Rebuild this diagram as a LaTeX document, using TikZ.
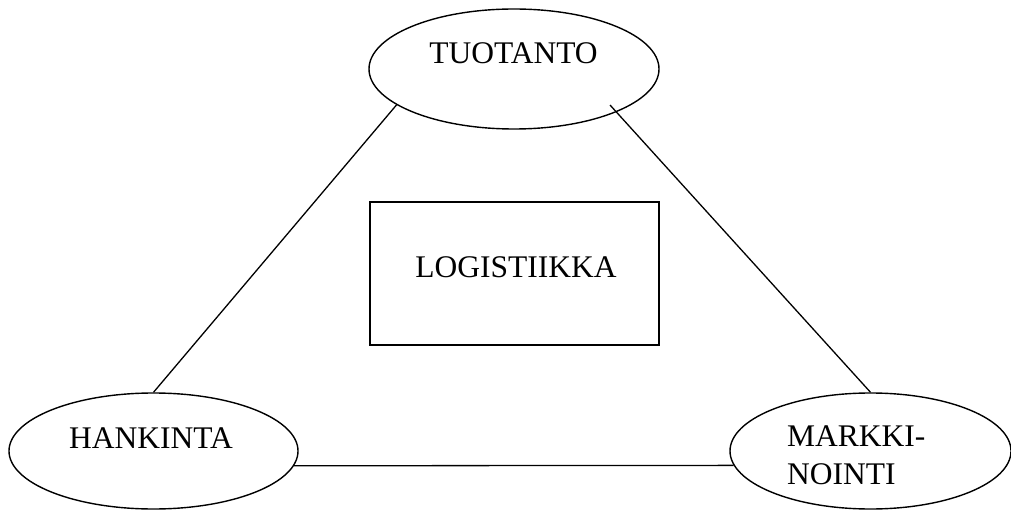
\documentclass[tikz,border=0pt]{standalone}
\usepackage{fontspec}
\setmainfont{Liberation Serif}
\usetikzlibrary{shapes.geometric}
\begin{document}
\begin{tikzpicture}[x=1pt,y=-1pt,
  oval/.style={draw=black,line width=1.4pt,ellipse,inner sep=0pt},
  box/.style={draw=black,line width=1.4pt,rectangle,inner sep=0pt},
  lbl/.style={font=\fontsize{31.5pt}{38pt}\selectfont,inner sep=0pt},
  conn/.style={draw=black,line width=1.3pt}]
\useasboundingbox (0,0) rectangle (1011,510);
% shapes
\node[oval,minimum width=290pt,minimum height=120pt] (tuo) at (514,69) {};
\node[oval,minimum width=289pt,minimum height=116pt] (hank) at (153.5,451) {};
\node[oval,minimum width=281pt,minimum height=116pt] (mark) at (870.5,451) {};
\node[box,minimum width=289pt,minimum height=143pt] (log) at (514.5,273.5) {};
% texts
\node[lbl,anchor=base] (tuot) at (513.5,64) {TUOTANTO};
\node[lbl,anchor=base] (hankt) at (151,448) {HANKINTA};
\node[lbl,anchor=base west] (markt1) at (787,446) {MARKKI-};
\node[lbl,anchor=base west] (markt2) at (787,484) {NOINTI};
\node[lbl,anchor=base] (logt) at (516,278) {LOGISTIIKKA};
% connectors
\coordinate (tr) at (610,105);
\draw[conn] (tuo.197) -- (hank.north);
\draw[conn] (tr) -- (mark.north);
\draw[conn] (hank.354) -- (mark.186);
\end{tikzpicture}
\end{document}
